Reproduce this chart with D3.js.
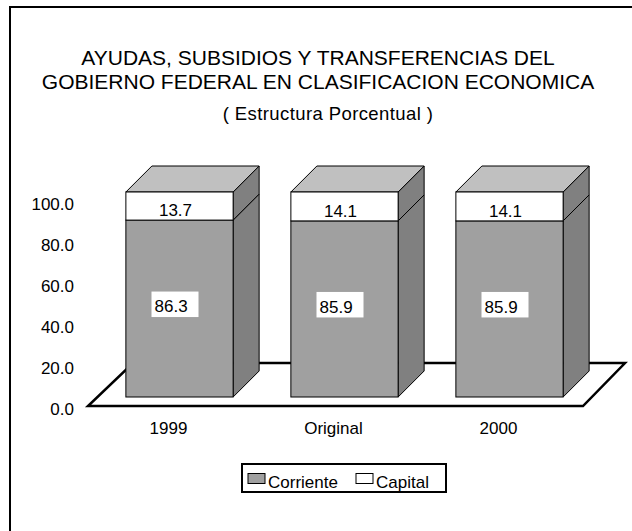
<!DOCTYPE html>
<html>
<head>
<meta charset="utf-8">
<script src="https://cdn.jsdelivr.net/npm/d3@7"></script>
<style>
  body { margin: 0; background: #fff; }
  text { font-family: Arial, "Liberation Sans", sans-serif; fill: #000; }
</style>
</head>
<body>
<svg width="632" height="531"></svg>
<script>
var categories = ["1999", "Original", "2000"];
var corriente = [86.3, 85.9, 85.9];
var capital = [13.7, 14.1, 14.1];
var tickValues = [0, 20, 40, 60, 80, 100];
var seriesNames = ["Corriente", "Capital"];
var titleLines = ["AYUDAS, SUBSIDIOS Y TRANSFERENCIAS DEL", "GOBIERNO FEDERAL EN CLASIFICACION ECONOMICA"];
var subtitle = "( Estructura Porcentual )";

var svg = d3.select("svg");

// frame (only top and left edges visible)
svg.append("rect")
    .attr("x", 10).attr("y", 7)
    .attr("width", 700).attr("height", 600)
    .attr("fill", "none").attr("stroke", "#000").attr("stroke-width", 2);

svg.selectAll("text.title")
  .data(titleLines)
  .enter().append("text")
    .attr("class", "title")
    .attr("x", 318)
    .attr("y", function(d, i) { return 65 + i * 23.5; })
    .attr("text-anchor", "middle")
    .attr("font-size", 21)
    .text(function(d) { return d; });

svg.append("text")
    .attr("x", 328).attr("y", 120)
    .attr("text-anchor", "middle")
    .attr("font-size", 18.5)
    .attr("letter-spacing", 0.4)
    .text(subtitle);

// floor geometry
var floorLeft = 88, floorRight = 583, floorY = 406, floorDepth = 43;
var barShift = 9, barDepth = 26;

var x = d3.scaleBand()
    .domain(categories)
    .range([floorLeft, floorRight])
    .paddingInner(0.35)
    .paddingOuter(0.175);

var y = d3.scaleLinear()
    .domain([0, 100])
    .range([408.5, 203.5]);
var frontOffset = 11.5; // bar front plane sits above the axis baseline

svg.append("polygon")
    .attr("points", [
      [floorLeft, floorY], [floorRight, floorY],
      [floorRight + floorDepth - 1, floorY - floorDepth], [floorLeft + floorDepth + 2, floorY - floorDepth]
    ].map(function(p) { return p.join(","); }).join(" "))
    .attr("fill", "#fff").attr("stroke", "#000").attr("stroke-width", 2.5)
    .attr("stroke-linejoin", "miter");

// value axis labels
svg.selectAll("text.tick")
  .data(tickValues)
  .enter().append("text")
    .attr("class", "tick")
    .attr("x", 74)
    .attr("y", function(d) { return y(d) + 6; })
    .attr("text-anchor", "end")
    .attr("font-size", 17)
    .text(function(d) { return d3.format(".1f")(d); });

// stacked 3d bars
var segs = [];
categories.forEach(function(c, i) {
  segs.push({cat: c, lo: 0, hi: corriente[i], front: "#a0a0a0", top: false});
  segs.push({cat: c, lo: corriente[i], hi: corriente[i] + capital[i], front: "#ffffff", top: true});
});

function pts(a) { return a.map(function(p) { return p.join(","); }).join(" "); }

var bars = svg.append("g").attr("class", "bars");
segs.forEach(function(s) {
  var x0 = x(s.cat) + barShift, x1 = x0 + x.bandwidth();
  var yb = y(s.lo) - frontOffset, yt = y(s.hi) - frontOffset;
  bars.append("polygon")
      .attr("points", pts([[x1, yt], [x1 + barDepth, yt - barDepth], [x1 + barDepth, yb - barDepth], [x1, yb]]))
      .attr("fill", "#808080").attr("stroke", "#000").attr("stroke-width", 1);
  if (s.top) {
    bars.append("polygon")
        .attr("points", pts([[x0, yt], [x0 + barDepth, yt - barDepth], [x1 + barDepth, yt - barDepth], [x1, yt]]))
        .attr("fill", "#c0c0c0").attr("stroke", "#000").attr("stroke-width", 1);
  }
  bars.append("rect")
      .attr("x", x0).attr("y", yt)
      .attr("width", x.bandwidth()).attr("height", yb - yt)
      .attr("fill", s.front).attr("stroke", "#000").attr("stroke-width", 1);
});

// data labels
categories.forEach(function(c, i) {
  var cx = x(c) + barShift + x.bandwidth() / 2;
  var midLo = (y(0) + y(corriente[i])) / 2 - frontOffset;
  svg.append("rect")
      .attr("x", cx - 28).attr("y", midLo - 17)
      .attr("width", 47).attr("height", 25.5)
      .attr("fill", "#fff");
  svg.append("text")
      .attr("x", cx - 25).attr("y", midLo + 3.7)
      .attr("font-size", 17)
      .text(d3.format(".1f")(corriente[i]));
  var midHi = (y(corriente[i]) + y(corriente[i] + capital[i])) / 2 - frontOffset;
  svg.append("text")
      .attr("x", cx - 4).attr("y", midHi + 10.3)
      .attr("text-anchor", "middle")
      .attr("font-size", 17)
      .text(d3.format(".1f")(capital[i]));
});

// category labels
svg.selectAll("text.cat")
  .data(categories)
  .enter().append("text")
    .attr("class", "cat")
    .attr("x", function(d) { return x(d) + x.bandwidth() / 2 - 2; })
    .attr("y", 434)
    .attr("text-anchor", "middle")
    .attr("font-size", 17)
    .text(function(d) { return d; });

// legend
var legend = svg.append("g").attr("class", "legend");
legend.append("rect")
    .attr("x", 242).attr("y", 464)
    .attr("width", 204).attr("height", 28)
    .attr("fill", "#fff").attr("stroke", "#000").attr("stroke-width", 2);
var legendX = [248, 356];
var legendFill = ["#a0a0a0", "#ffffff"];
seriesNames.forEach(function(n, i) {
  legend.append("rect")
      .attr("x", legendX[i]).attr("y", 473.5)
      .attr("width", 17).attr("height", 10)
      .attr("fill", legendFill[i]).attr("stroke", "#000").attr("stroke-width", 1);
  legend.append("text")
      .attr("x", legendX[i] + 20).attr("y", 488)
      .attr("font-size", 17)
      .text(n);
});
</script>
</body>
</html>
